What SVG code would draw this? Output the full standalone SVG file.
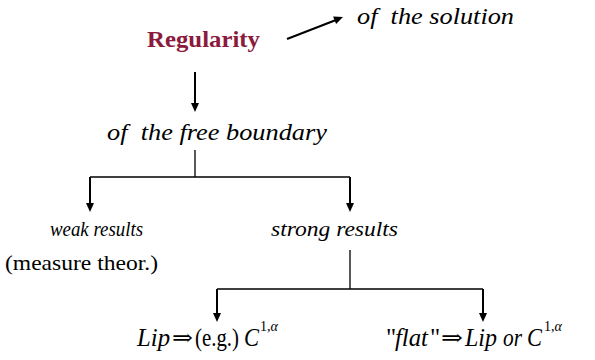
<svg xmlns="http://www.w3.org/2000/svg" width="595" height="360" viewBox="0 0 595 360">
<rect width="595" height="360" fill="#fff"/>
<g id="regularity"><text x="147" y="47" font-family="Liberation Serif, DejaVu Serif, serif" font-size="23" font-weight="bold" fill="#8b1a3c" textLength="113" lengthAdjust="spacingAndGlyphs">Regularity</text></g>
<g id="solution"><text x="357" y="24" font-family="Liberation Serif, DejaVu Serif, serif" font-size="23" font-style="italic" textLength="157" lengthAdjust="spacingAndGlyphs" xml:space="preserve">of  the solution</text></g>
<g id="freeboundary"><text x="107" y="140" font-family="Liberation Serif, DejaVu Serif, serif" font-size="23" font-style="italic" textLength="220" lengthAdjust="spacingAndGlyphs" xml:space="preserve">of  the free boundary</text></g>
<g id="weak"><text x="50" y="236" font-family="Liberation Serif, DejaVu Serif, serif" font-size="20" font-style="italic" textLength="93" lengthAdjust="spacingAndGlyphs">weak results</text><text x="5" y="270" font-family="Liberation Serif, DejaVu Serif, serif" font-size="21" textLength="153" lengthAdjust="spacingAndGlyphs">(measure theor.)</text></g>
<g id="strong"><text x="271" y="236" font-family="Liberation Serif, DejaVu Serif, serif" font-size="20" font-style="italic" textLength="127" lengthAdjust="spacingAndGlyphs">strong results</text></g>
<g id="lip">
<text x="137" y="346" font-family="Liberation Serif, DejaVu Serif, serif" font-size="25" font-style="italic" textLength="33" lengthAdjust="spacingAndGlyphs">Lip</text>
<text x="172" y="345" font-family="Liberation Serif, DejaVu Serif, serif" font-size="22" textLength="21" lengthAdjust="spacingAndGlyphs">⇒</text>
<text x="195" y="346" font-family="Liberation Serif, DejaVu Serif, serif" font-size="25" textLength="44" lengthAdjust="spacingAndGlyphs">(e.g.)</text>
<text x="244" y="346" font-family="Liberation Serif, DejaVu Serif, serif" font-size="25" font-style="italic" textLength="15" lengthAdjust="spacingAndGlyphs">C</text>
<text x="260" y="331" font-family="Liberation Serif, DejaVu Serif, serif" font-size="14">1,<tspan font-style="italic">α</tspan></text>
</g>
<g id="flat">
<text x="386" y="346" font-family="Liberation Serif, DejaVu Serif, serif" font-size="25">"</text>
<text x="395" y="346" font-family="Liberation Serif, DejaVu Serif, serif" font-size="25" font-style="italic" textLength="33" lengthAdjust="spacingAndGlyphs">flat</text>
<text x="430" y="346" font-family="Liberation Serif, DejaVu Serif, serif" font-size="25">"</text>
<text x="441" y="345" font-family="Liberation Serif, DejaVu Serif, serif" font-size="22" textLength="22" lengthAdjust="spacingAndGlyphs">⇒</text>
<text x="465" y="346" font-family="Liberation Serif, DejaVu Serif, serif" font-size="25" font-style="italic" textLength="32" lengthAdjust="spacingAndGlyphs">Lip</text>
<text x="503" y="346" font-family="Liberation Serif, DejaVu Serif, serif" font-size="25" font-style="italic" textLength="19" lengthAdjust="spacingAndGlyphs">or</text>
<text x="527" y="346" font-family="Liberation Serif, DejaVu Serif, serif" font-size="25" font-style="italic" textLength="15" lengthAdjust="spacingAndGlyphs">C</text>
<text x="544" y="331" font-family="Liberation Serif, DejaVu Serif, serif" font-size="14">1,<tspan font-style="italic">α</tspan></text>
</g>
<g id="connectors">
<g stroke="#000" fill="none">
<path stroke-width="2" d="M287,39 L336,20"/>
<path stroke-width="2" d="M195,72 L195,104"/>
<path stroke-width="1.3" d="M195,150 V177 M90,177 H350"/>
<path stroke-width="2" d="M90,177 V204"/>
<path stroke-width="2" d="M350,177 V204"/>
<path stroke-width="1.3" d="M350,250 V289 M217,289 H483"/>
<path stroke-width="2" d="M217,289 V314"/>
<path stroke-width="2" d="M483,289 V314"/>
</g>
<g fill="#000">
<polygon points="343,17 336.1,24 333.1,16.6"/>
<polygon points="191,103 199,103 195,112"/>
<polygon points="86,203 94,203 90,212"/>
<polygon points="346,203 354,203 350,212"/>
<polygon points="213,313 221,313 217,322"/>
<polygon points="479,313 487,313 483,322"/>
</g>
</g>
</svg>
